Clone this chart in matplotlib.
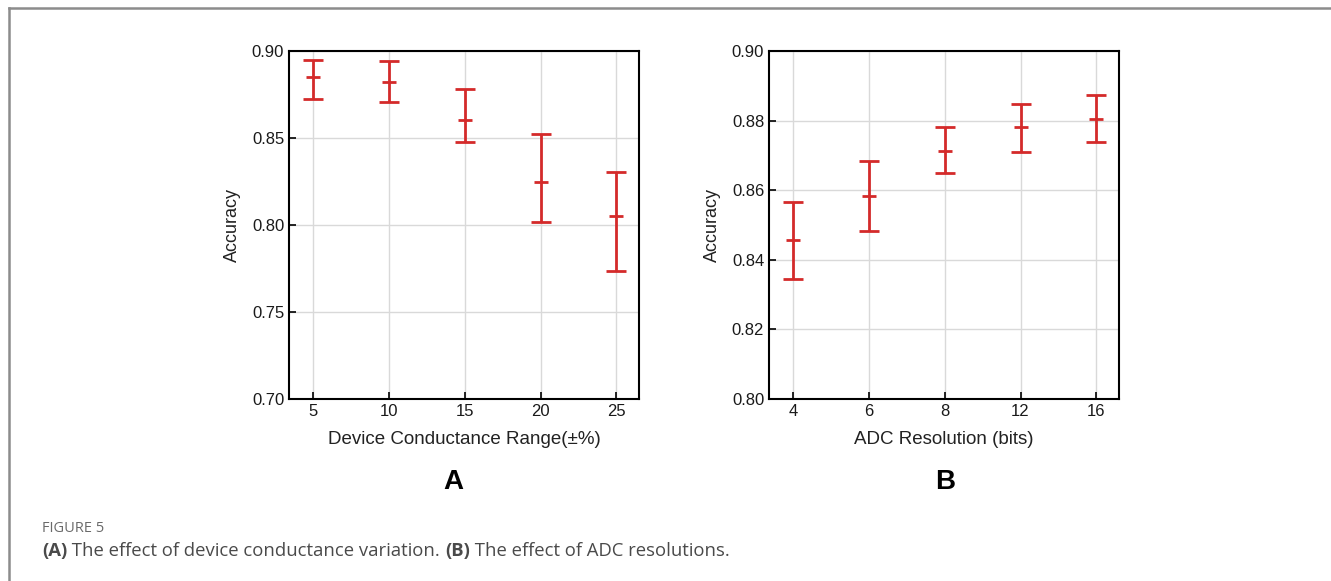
import matplotlib
matplotlib.use("Agg")
import matplotlib.pyplot as plt
from matplotlib.lines import Line2D

# panel A: device conductance variation
cond_labels = ["5", "10", "15", "20", "25"]
cond_mean = [0.8849, 0.8824, 0.8605, 0.8250, 0.8049]
cond_upper = [0.8948, 0.8944, 0.8783, 0.8524, 0.8304]
cond_lower = [0.8726, 0.8705, 0.8477, 0.8020, 0.7738]

# panel B: ADC resolution
adc_labels = ["4", "6", "8", "12", "16"]
adc_mean = [0.8458, 0.8583, 0.8714, 0.8781, 0.8805]
adc_upper = [0.8567, 0.8683, 0.8781, 0.8849, 0.8873]
adc_lower = [0.8346, 0.8483, 0.8648, 0.8710, 0.8738]

RED = '#d42a2a'
plt.rcParams['font.family'] = ['Liberation Sans', 'DejaVu Sans']

W, H = 1331, 581
fig = plt.figure(figsize=(W / 100.0, H / 100.0), dpi=100)


def panel(left, labels, mean, upper, lower, ylim, yticks, xlabel, letter, letter_x):
    ax = fig.add_axes([left / W, 1 - 399.0 / H, 350.0 / W, 348.0 / H])
    xs = list(range(len(labels)))
    err = [[m - l for m, l in zip(mean, lower)], [u - m for m, u in zip(mean, upper)]]
    ax.errorbar(xs, mean, yerr=err, fmt='_', color=RED, ecolor=RED,
                markersize=10.5, markeredgewidth=2, elinewidth=2,
                capsize=7.5, capthick=2, zorder=3)
    ax.set_xlim(-0.32, 4.3)
    ax.set_ylim(*ylim)
    ax.set_xticks(xs)
    ax.set_xticklabels(labels)
    ax.set_yticks(yticks)
    ax.set_yticklabels(['%.2f' % v for v in yticks])
    ax.grid(True, color='#d9d9d9', linewidth=1, zorder=0)
    ax.set_axisbelow(True)
    ax.tick_params(direction='in', length=5, width=1.2, labelsize=12, colors='black',
                   labelcolor='#1a1a1a')
    for s in ax.spines.values():
        s.set_linewidth(1.5)
    ax.set_ylabel("Accuracy", fontsize=13, color='#222222', labelpad=8)
    ax.set_xlabel(xlabel, fontsize=13.5, color='#222222', labelpad=9)
    fig.text(letter_x / W, 1 - 482.0 / H, letter, fontsize=20, fontweight='bold',
             ha='center', va='center')
    return ax


panel(289, cond_labels, cond_mean, cond_upper, cond_lower, (0.70, 0.90),
      [0.70, 0.75, 0.80, 0.85, 0.90], "Device Conductance Range(\u00b1%)", "A", 453)
panel(769, adc_labels, adc_mean, adc_upper, adc_lower, (0.80, 0.90),
      [0.80, 0.82, 0.84, 0.86, 0.88, 0.90], "ADC Resolution (bits)", "B", 945)

# frame lines at top and left
fig.add_artist(Line2D([9.0 / W, 1.0], [1 - 7.5 / H, 1 - 7.5 / H], color='#8c8c8c', linewidth=1.8,
                      transform=fig.transFigure))
fig.add_artist(Line2D([9.0 / W, 9.0 / W], [0, 1 - 7.5 / H], color='#8c8c8c', linewidth=1.8,
                      transform=fig.transFigure))

# caption
cap_font = ['Open Sans', 'DejaVu Sans']
fig.text(42.0 / W, 1 - 528.0 / H, "FIGURE 5", fontsize=10.5, color='#6a6a6a',
         family=cap_font, va='center')
parts = [("(A)", 'bold'), (" The effect of device conductance variation. ", 'normal'),
         ("(B)", 'bold'), (" The effect of ADC resolutions.", 'normal')]
renderer = fig.canvas.get_renderer()
x = 42.0
for txt, wt in parts:
    t = fig.text(x / W, 1 - 551.0 / H, txt, fontsize=13.3, color='#4a4a4a',
                 family=cap_font, fontweight=wt, va='center')
    x += t.get_window_extent(renderer).width

fig.savefig("out.png", dpi=100)
